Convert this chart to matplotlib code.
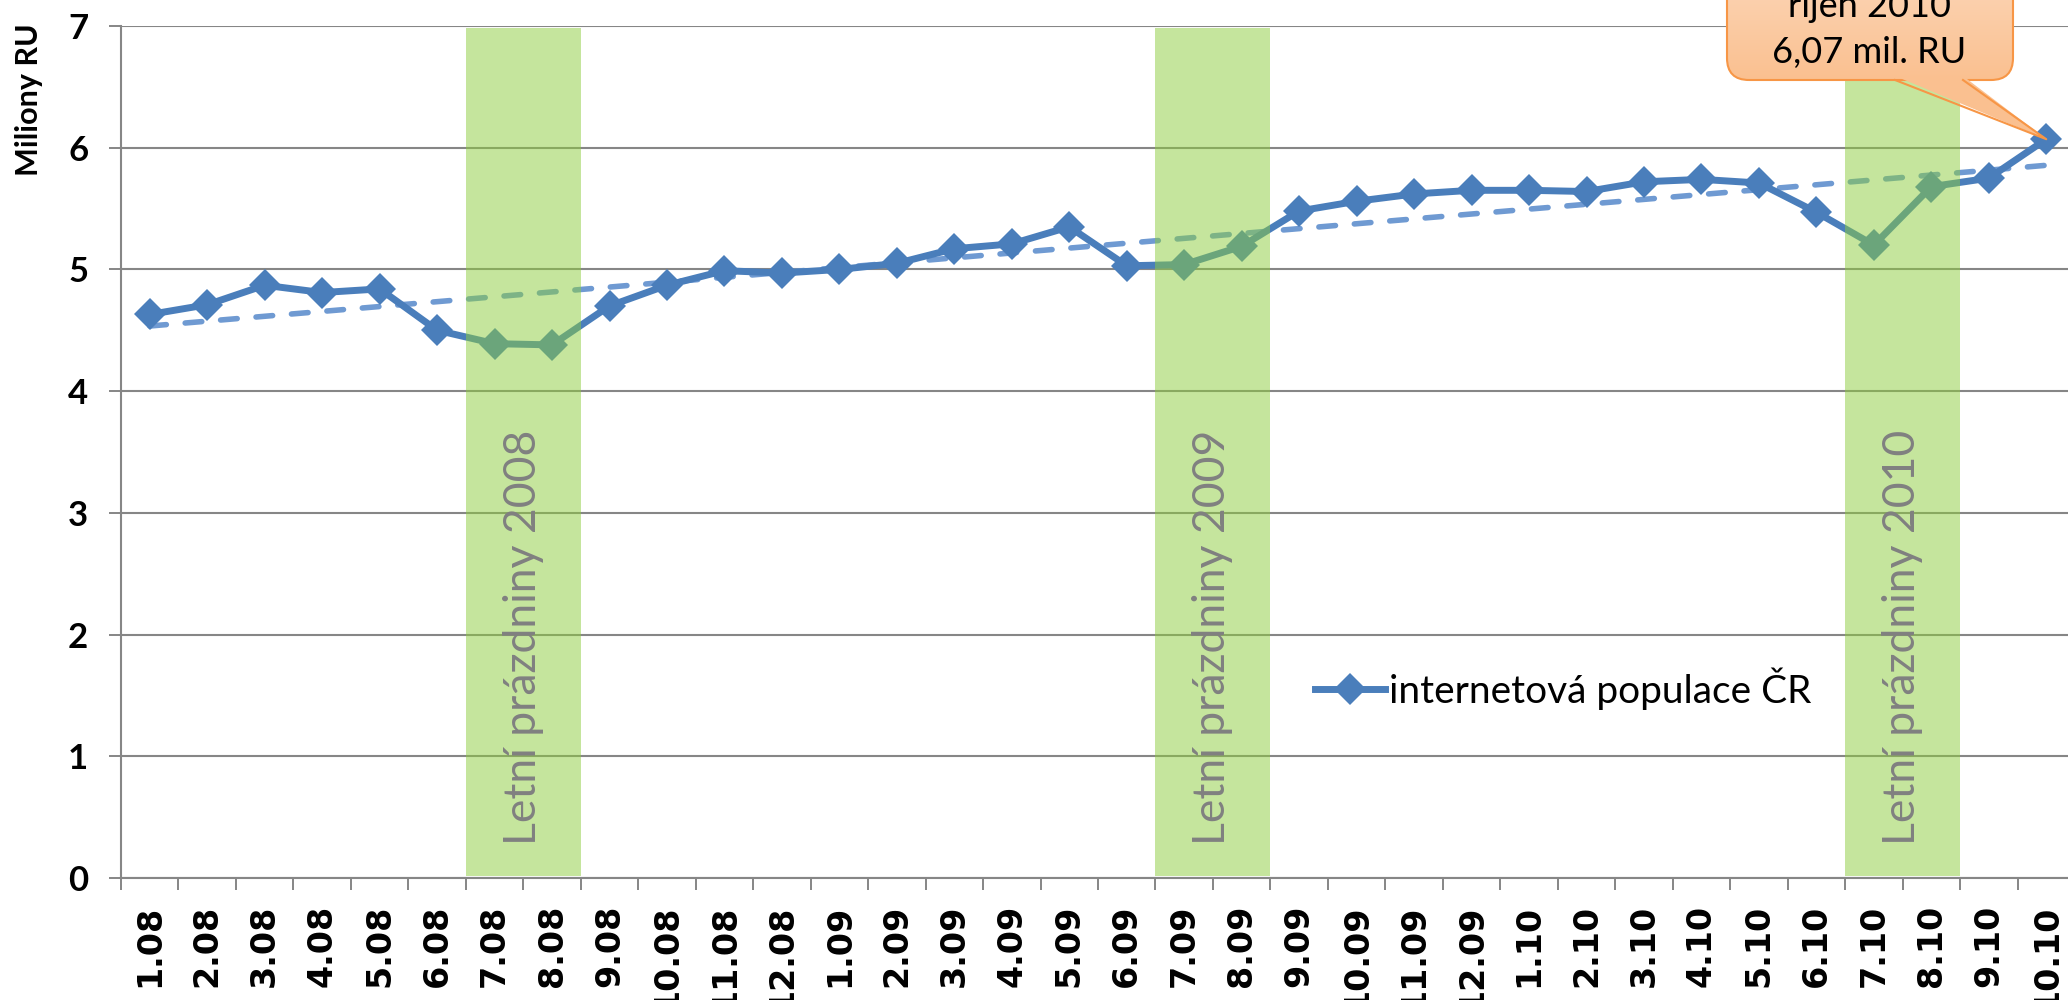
import numpy as np
import matplotlib.pyplot as plt
from matplotlib.patches import FancyBboxPatch, Polygon
from matplotlib.lines import Line2D
from matplotlib.colors import LinearSegmentedColormap

months = ["1.08", "2.08", "3.08", "4.08", "5.08", "6.08", "7.08", "8.08", "9.08", "10.08",
          "11.08", "12.08", "1.09", "2.09", "3.09", "4.09", "5.09", "6.09", "7.09", "8.09",
          "9.09", "10.09", "11.09", "12.09", "1.10", "2.10", "3.10", "4.10", "5.10", "6.10",
          "7.10", "8.10", "9.10", "10.10"]
population = [4.63, 4.71, 4.87, 4.81, 4.84, 4.50, 4.39, 4.38, 4.70, 4.87,
              4.99, 4.97, 5.00, 5.05, 5.17, 5.21, 5.35, 5.03, 5.04, 5.19,
              5.48, 5.56, 5.62, 5.65, 5.65, 5.64, 5.72, 5.74, 5.71, 5.47,
              5.20, 5.68, 5.75, 6.07]
holiday_start = ["7.08", "7.09", "7.10"]
holiday_end = ["8.08", "8.09", "8.10"]
holiday_labels = ["Letní prázdniny 2008", "Letní prázdniny 2009", "Letní prázdniny 2010"]
series_label = "internetová populace ČR"
y_label = "Miliony RU"
callout_lines = ["říjen 2010", "6,07 mil. RU"]
y_ticks = [0, 1, 2, 3, 4, 5, 6, 7]

W, H = 2068, 1000
GRID = "#868686"
BLUE = "#4A7EBB"

fig = plt.figure(figsize=(W / 100, H / 100), dpi=100)
ax = fig.add_axes([121 / W, 122 / H, 1954 / W, 852 / H])

x = np.arange(len(months))

# trend line (linear fit, like Excel trendline)
coef = np.polyfit(x, population, 1)
ax.plot(x, np.polyval(coef, x), color="#6F9AD2", lw=4, ls=(0, (3.0, 3.4)),
        dash_capstyle="round", zorder=2)

line, = ax.plot(x, population, color=BLUE, lw=5, marker="D", ms=16,
                markeredgewidth=0, zorder=3)

# summer holidays bands
for s, e, lab in zip(holiday_start, holiday_end, holiday_labels):
    i0, i1 = months.index(s), months.index(e)
    ax.axvspan(i0 - 0.5, i1 + 0.5, ymin=0.002, ymax=0.998, color="#8CCD3C",
               alpha=0.5, lw=0, zorder=4)
    ax.text((i0 + i1) / 2, 1.98, lab, rotation=90, ha="center", va="center",
            fontsize=32, family="Lato", color="#808080", zorder=5)

ax.set_xlim(-0.5, len(months) - 0.5)
ax.set_ylim(0, 7)
ax.set_yticks(y_ticks)
ax.yaxis.grid(True, color=GRID, lw=1.5)
ax.set_axisbelow(True)

ax.set_xticks(x)
ax.set_xticklabels(months, rotation=90, fontsize=24, fontweight="bold",
                   family="DejaVu Sans")
ax.set_xticks(np.arange(len(months) + 1) - 0.5, minor=True)
ax.tick_params(axis="x", which="major", length=0, pad=19)
ax.tick_params(axis="x", which="minor", length=8.6, width=1.4, color=GRID, direction="out")
ax.tick_params(axis="y", length=8.6, width=1.4, color=GRID, pad=15)
for t in ax.get_yticklabels():
    t.set_fontsize(25)
    t.set_fontweight("bold")
    t.set_family("Lato")

for side in ["top", "right"]:
    ax.spines[side].set_visible(False)
for side in ["left", "bottom"]:
    ax.spines[side].set_color(GRID)
    ax.spines[side].set_linewidth(1.5)

fig.text(29 / W, 1 - 100 / H, y_label, rotation=90, ha="center", va="center",
         fontsize=22, fontweight="bold", family="Lato")

ax.legend([line], [series_label], loc="center left", bbox_to_anchor=(0.611, 0.222),
          frameon=False, borderpad=0, borderaxespad=0, handlelength=1.8,
          handletextpad=0.1, numpoints=1, prop={"family": "Lato", "size": 28})

# callout box pointing at last value
fig.canvas.draw()
tip = ax.transData.transform((x[-1], population[-1])) / fig.dpi
tr = fig.dpi_scale_trans
gax = fig.add_axes([1727 / W, 920 / H, 286 / W, 180 / H])
gax.set_axis_off()
cmap = LinearSegmentedColormap.from_list("peach", ["#FAC090", "#FDE4D0"])
grad = np.linspace(0, 1, 256).reshape(-1, 1)
im = gax.imshow(grad, extent=[0, 1, 0, 1], aspect="auto", cmap=cmap, origin="lower")
box = FancyBboxPatch((17.27, 9.20), 2.86, 1.6, boxstyle="round,pad=0,rounding_size=0.22",
                     transform=tr, fc="none", ec="#F79646", lw=1.5, clip_on=False, zorder=3)
gax.add_patch(box)
im.set_clip_path(box)
base_l, base_r, base_y = (18.95, 9.24), (19.63, 9.24), 9.20
pointer = Polygon([base_l, base_r, tuple(tip)], closed=True, transform=tr, fc="#FAC090",
                  ec="none", clip_on=False, zorder=4)
gax.add_patch(pointer)
gax.add_line(Line2D([base_l[0], tip[0], base_r[0]], [base_y, tip[1], base_y], transform=tr,
                    color="#F79646", lw=1.5, clip_on=False, zorder=5))
gax.text(18.69, 9.83, callout_lines[0], transform=tr, ha="center", va="baseline",
         fontsize=26, family="Lato", clip_on=False, zorder=6)
gax.text(18.69, 9.37, callout_lines[1], transform=tr, ha="center", va="baseline",
         fontsize=26, family="Lato", clip_on=False, zorder=6)

fig.savefig("out.png", dpi=100)
